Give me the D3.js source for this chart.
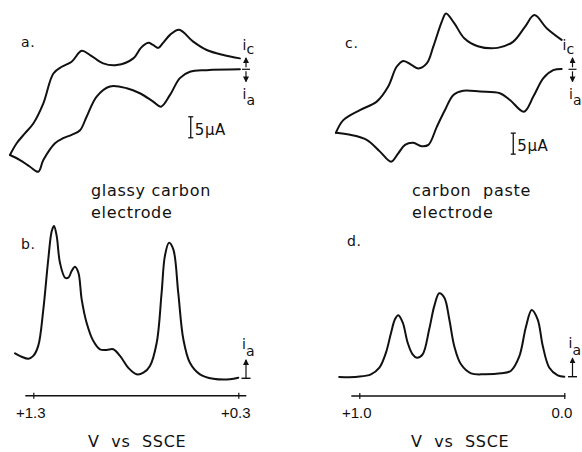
<!DOCTYPE html>
<html>
<head>
<meta charset="utf-8">
<script src="https://cdn.jsdelivr.net/npm/d3@7"></script>
<style>
  html, body { margin: 0; padding: 0; background: #fff; }
  svg { display: block; font-family: "DejaVu Sans", sans-serif; }
  text { fill: #111; white-space: pre; }
</style>
</head>
<body>
<svg id="chart" width="582" height="452"></svg>
<script>
// ─────────────────────────────────────────────────────────────
// data: potential (V vs SSCE), current (µA, cathodic positive)
// ─────────────────────────────────────────────────────────────

// a. glassy carbon, cyclic voltammogram
const cvA_anodic = [
  [0.292, 0.0], [0.454, -0.2], [0.536, -0.6], [0.585, -2.1], [0.633, -6.1],
  [0.677, -8.9], [0.715, -7.7], [0.780, -5.7], [0.844, -4.5], [0.926, -4.1],
  [0.991, -6.5], [1.040, -11.3], [1.072, -14.5], [1.113, -15.6], [1.154, -16.4],
  [1.194, -17.6], [1.251, -21.6], [1.276, -24.4], [1.316, -23.2], [1.365, -21.6],
  [1.414, -20.4]
];
const cvA_cathodic = [
  [1.414, -20.4], [1.381, -17.6], [1.340, -15.2], [1.300, -12.9], [1.251, -8.1],
  [1.202, -1.0], [1.161, 0.6], [1.113, 1.8], [1.064, 4.4], [1.023, 3.4],
  [0.959, 1.4], [0.893, 1.0], [0.812, 2.6], [0.775, 5.1], [0.739, 6.3],
  [0.716, 5.8], [0.690, 5.1], [0.667, 6.3], [0.633, 8.2], [0.589, 9.4],
  [0.520, 6.6], [0.454, 4.6], [0.373, 3.4], [0.292, 2.6]
];

// b. glassy carbon, differential pulse
const dpvB = [
  [1.389, 6.25], [1.357, 5.4], [1.324, 4.9], [1.300, 5.6], [1.276, 8.1],
  [1.251, 17.25], [1.227, 29.75], [1.210, 36.8], [1.199, 38.1], [1.186, 35.6],
  [1.170, 28.9], [1.145, 25.15], [1.129, 25.15], [1.113, 26.8], [1.097, 27.9],
  [1.080, 26.4], [1.064, 19.75], [1.040, 13.9], [1.007, 9.3], [0.975, 7.25],
  [0.942, 7.1], [0.910, 7.25], [0.877, 5.6], [0.837, 2.65], [0.796, 1.0],
  [0.763, 1.4], [0.731, 3.1], [0.698, 8.9], [0.674, 21.4], [0.658, 30.6],
  [0.638, 33.9], [0.617, 32.25], [0.593, 21.4], [0.568, 9.75], [0.536, 3.9],
  [0.487, 1.0], [0.422, -0.1], [0.341, -0.25], [0.300, 0.15]
];

// c. carbon paste, cyclic voltammogram
const cvC_anodic = [
  [0.013, 0.1], [0.054, -0.2], [0.102, -2.1], [0.151, -6.5], [0.197, -10.1],
  [0.265, -7.3], [0.314, -5.7], [0.411, -5.3], [0.493, -5.1], [0.541, -6.1],
  [0.582, -9.7], [0.622, -13.7], [0.663, -18.0], [0.696, -18.3], [0.737, -17.5],
  [0.777, -18.0], [0.810, -20.0], [0.845, -22.0], [0.899, -19.6], [0.964, -16.8],
  [1.045, -15.6], [1.114, -15.1]
];
const cvC_cathodic = [
  [1.114, -15.1], [1.078, -12.1], [0.997, -9.7], [0.915, -7.7], [0.859, -4.1],
  [0.818, 0.6], [0.785, 2.0], [0.744, 1.0], [0.712, 0.2], [0.671, 1.4],
  [0.639, 5.4], [0.598, 11.3], [0.577, 13.3], [0.537, 11.0], [0.488, 7.4],
  [0.422, 5.5], [0.325, 5.1], [0.249, 6.6], [0.192, 10.1], [0.146, 12.9],
  [0.086, 9.8], [0.013, 7.0]
];

// d. carbon paste, differential pulse
const dpvD = [
  [1.098, -0.1], [1.008, 0.0], [0.943, 0.6], [0.902, 2.25], [0.870, 6.0],
  [0.845, 11.0], [0.826, 14.35], [0.810, 15.35], [0.788, 13.5], [0.764, 8.5],
  [0.740, 5.6], [0.719, 4.75], [0.691, 5.6], [0.659, 11.85], [0.634, 17.7],
  [0.610, 20.85], [0.585, 19.75], [0.561, 14.35], [0.537, 7.7], [0.504, 3.1],
  [0.455, 0.85], [0.390, 0.6], [0.309, 0.85], [0.260, 1.5], [0.220, 5.0],
  [0.187, 12.5], [0.159, 16.7], [0.130, 14.35], [0.105, 7.7], [0.073, 2.25],
  [0.032, 0.35], [0.000, 0.0]
];

const ticksLeft   = [1.3, 0.3];
const tickLabelsLeft  = ['+1.3', '+0.3'];
const ticksRight  = [1.0, 0.0];
const tickLabelsRight = ['+1.0', '0.0'];

const scaleBarUA = 5;

// ─────────────────────────────────────────────────────────────
// scales
// ─────────────────────────────────────────────────────────────
const svg = d3.select('#chart');

const xLeft  = d3.scaleLinear().domain([1.3, 0.3]).range([33.3, 238.3]);
const xRight = d3.scaleLinear().domain([1.0, 0.0]).range([359.3, 564.3]);

const yA = d3.scaleLinear().domain([0, 10]).range([69.3, 27.3]);
const yC = d3.scaleLinear().domain([0, 10]).range([69.3, 27.3]);
const yB = d3.scaleLinear().domain([0, 10]).range([378.3, 338.3]);
const yD = d3.scaleLinear().domain([0, 10]).range([376.7, 336.7]);

function trace(data, x, y) {
  const line = d3.line()
    .x(d => x(d[0]))
    .y(d => y(d[1]))
    .curve(d3.curveCatmullRom.alpha(0.5));
  svg.append('path')
    .datum(data)
    .attr('d', line)
    .attr('fill', 'none')
    .attr('stroke', '#111')
    .attr('stroke-width', 2)
    .attr('stroke-linejoin', 'round')
    .attr('stroke-linecap', 'round');
}

trace(cvA_anodic, xLeft, yA);
trace(cvA_cathodic, xLeft, yA);
trace(dpvB, xLeft, yB);
trace(cvC_anodic, xRight, yC);
trace(cvC_cathodic, xRight, yC);
trace(dpvD, xRight, yD);

// ─────────────────────────────────────────────────────────────
// potential axes under b and d
// ─────────────────────────────────────────────────────────────
function potentialAxis(x, ticks, labels, yPos, ext) {
  const g = svg.append('g').attr('transform', `translate(0,${yPos})`);
  g.call(d3.axisBottom(x).tickValues(ticks).tickSize(0).tickFormat(''));
  g.select('.domain')
    .attr('d', `M${x.range()[0] - ext[0]},0H${x.range()[1] + ext[1]}`)
    .attr('stroke', '#111')
    .attr('stroke-width', 1.4);
  g.selectAll('.tick line')
    .attr('y1', -3).attr('y2', 3)
    .attr('stroke', '#111').attr('stroke-width', 1.2);
  g.selectAll('.tick')
    .append('text')
    .attr('x', -3)
    .attr('y', 22)
    .attr('text-anchor', 'middle')
    .attr('font-size', 15)
    .attr('fill', '#111')
    .text((d, i) => labels[i]);
}
potentialAxis(xLeft, ticksLeft, tickLabelsLeft, 395.7, [8, 8]);
potentialAxis(xRight, ticksRight, tickLabelsRight, 396, [8, 1]);

// ─────────────────────────────────────────────────────────────
// current markers (i_c / i_a arrows) and scale bars
// ─────────────────────────────────────────────────────────────
const defs = svg.append('defs');
defs.append('marker')
  .attr('id', 'head')
  .attr('viewBox', '0 0 6 6')
  .attr('refX', 5).attr('refY', 3)
  .attr('markerWidth', 5).attr('markerHeight', 5)
  .attr('orient', 'auto-start-reverse')
  .append('path').attr('d', 'M0,0L6,3L0,6Z').attr('fill', '#111');

function cvMarker(x, y, xc, xa) {
  svg.append('line')
    .attr('x1', x).attr('x2', x)
    .attr('y1', y(0) - 2).attr('y2', y(2.7))
    .attr('stroke', '#111').attr('stroke-width', 1.2)
    .attr('marker-end', 'url(#head)');
  svg.append('line')
    .attr('x1', x).attr('x2', x)
    .attr('y1', y(0) + 2).attr('y2', y(-2.9))
    .attr('stroke', '#111').attr('stroke-width', 1.2)
    .attr('marker-end', 'url(#head)');
  svg.append('line')
    .attr('x1', x - 4).attr('x2', x + 4)
    .attr('y1', y(0)).attr('y2', y(0))
    .attr('stroke', '#111').attr('stroke-width', 1.2);
  const tc = svg.append('text').attr('x', xc).attr('y', y(0) - 19).attr('font-size', 14);
  tc.append('tspan').text('i');
  tc.append('tspan').attr('dy', 4).text('c');
  const ta = svg.append('text').attr('x', xa).attr('y', y(0) + 30).attr('font-size', 14);
  ta.append('tspan').text('i');
  ta.append('tspan').attr('dy', 6).text('a');
}
cvMarker(246, yA, 242.5, 242.5);
cvMarker(572.5, yC, 562.5, 569);

function dpvMarker(x, y, xl) {
  svg.append('line')
    .attr('x1', x).attr('x2', x)
    .attr('y1', y(0)).attr('y2', y(4.6))
    .attr('stroke', '#111').attr('stroke-width', 1.2)
    .attr('marker-end', 'url(#head)');
  svg.append('line')
    .attr('x1', x - 4.5).attr('x2', x + 4.5)
    .attr('y1', y(0)).attr('y2', y(0))
    .attr('stroke', '#111').attr('stroke-width', 1.4);
  const t = svg.append('text').attr('x', xl).attr('y', y(0) - 29).attr('font-size', 14);
  t.append('tspan').text('i');
  t.append('tspan').attr('dy', 7).text('a');
}
dpvMarker(246, yB, 242);
dpvMarker(572.5, yD, 568.5);

function scaleBar(x, y, v, top) {
  const g = svg.append('g').attr('stroke', '#111').attr('stroke-width', 1.3);
  const px = x(v);
  const y1 = y(top), y2 = y(top - scaleBarUA);
  g.append('line').attr('x1', px).attr('x2', px).attr('y1', y1).attr('y2', y2);
  g.append('line').attr('x1', px - 2.5).attr('x2', px + 2.5).attr('y1', y1).attr('y2', y1);
  g.append('line').attr('x1', px - 2.5).attr('x2', px + 2.5).attr('y1', y2).attr('y2', y2);
  svg.append('text')
    .attr('x', px + 4).attr('y', y2 - 3)
    .attr('font-size', 15)
    .attr('letter-spacing', 0.6)
    .text(scaleBarUA + 'μA');
}
scaleBar(xLeft, yA, 0.532, -11.3);
scaleBar(xRight, yC, 0.249, -15.2);

// ─────────────────────────────────────────────────────────────
// labels
// ─────────────────────────────────────────────────────────────
const labels = [
  ['a.', 21, 47, 14], ['c.', 345, 48, 14], ['b.', 21, 249, 14], ['d.', 347, 246, 14],
  ['glassy carbon', 91, 196, 16], ['electrode', 91, 218, 16],
  ['carbon  paste', 412, 196, 16], ['electrode', 412, 218, 16],
  ['V  vs  SSCE', 88, 447, 16], ['V  vs  SSCE', 411, 447, 16]
];
svg.selectAll('.lbl')
  .data(labels)
  .enter().append('text')
  .attr('class', 'lbl')
  .attr('x', d => d[1])
  .attr('y', d => d[2])
  .attr('font-size', d => d[3])
  .attr('letter-spacing', 0.7)
  .text(d => d[0]);
</script>
</body>
</html>
